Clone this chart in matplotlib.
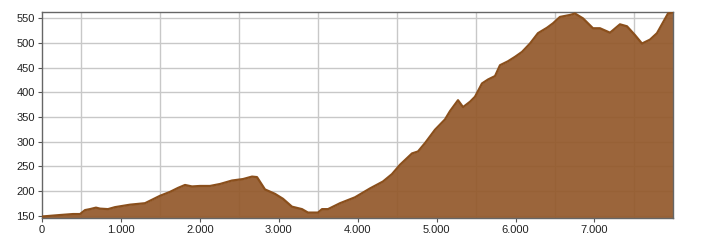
import matplotlib
matplotlib.use('Agg')
import matplotlib.pyplot as plt
import numpy as np
from matplotlib.ticker import FuncFormatter

# perfil de altitud (distancia en m, altitud en m)
distance = [0, 228, 393, 482, 545, 608, 684, 735, 836, 925, 1115, 1305, 1394,
            1495, 1622, 1723, 1812, 1901, 2002, 2129, 2256, 2407, 2547, 2661,
            2724, 2825, 2952, 3053, 3167, 3294, 3370, 3497, 3548, 3624, 3776,
            3966, 4156, 4320, 4434, 4536, 4688, 4764, 4853, 4979, 5106, 5170,
            5271, 5335, 5424, 5486, 5575, 5651, 5740, 5803, 5904, 5993, 6082,
            6183, 6284, 6398, 6474, 6563, 6690, 6753, 6855, 6981, 7070, 7197,
            7323, 7412, 7514, 7602, 7704, 7792, 7932, 7995]
altitude = [148, 151, 153, 153, 161, 163, 166, 164, 163, 167, 172, 175, 182,
            190, 198, 206, 212, 209, 210, 210, 214, 221, 224, 229,
            228, 203, 194, 184, 168, 163, 156, 156, 163, 163, 175,
            187, 205, 219, 234, 253, 276, 280, 297, 324, 345, 362,
            384, 370, 381, 391, 418, 426, 433, 455, 463, 472, 482,
            499, 520, 531, 540, 553, 557, 560, 550, 530, 530, 521,
            538, 534, 516, 499, 507, 520, 560, 562]

x_minor = np.arange(500, 8000, 1000)
y_ticks = [150, 200, 250, 300, 350, 400, 450, 500, 550]

plt.rcParams['font.family'] = ['Liberation Sans', 'DejaVu Sans']

fig = plt.figure(figsize=(7.08, 2.41), dpi=100)
ax = fig.add_axes([42 / 708, 23 / 241, 631 / 708, 206 / 241])

ymin = 145
ax.fill_between(distance, altitude, ymin, color='#93582a', alpha=0.92, lw=0, zorder=2)
ax.plot(distance, altitude, color='#8a4f1c', lw=1.6, zorder=3)

ax.set_xlim(0, 7995)
ax.set_ylim(ymin, 563)
ax.set_xticks(np.arange(0, 8000, 1000))
ax.set_xticks(x_minor, minor=True)
ax.set_yticks(y_ticks)
ax.xaxis.set_major_formatter(FuncFormatter(lambda v, p: f"{int(v):,}".replace(',', '.')))

ax.grid(which='minor', axis='x', color='#c8c8c8', lw=1, zorder=1)
ax.grid(which='major', axis='y', color='#c8c8c8', lw=1, zorder=1)
ax.set_axisbelow(True)

ax.tick_params(which='major', length=3, width=0.8, color='#555555',
               labelsize=8, labelcolor='#222222', pad=2)
ax.tick_params(which='minor', length=0)
for side in ['left', 'top', 'right', 'bottom']:
    ax.spines[side].set_color('#666666')
    ax.spines[side].set_linewidth(1)

fig.savefig('out.png', dpi=100)
